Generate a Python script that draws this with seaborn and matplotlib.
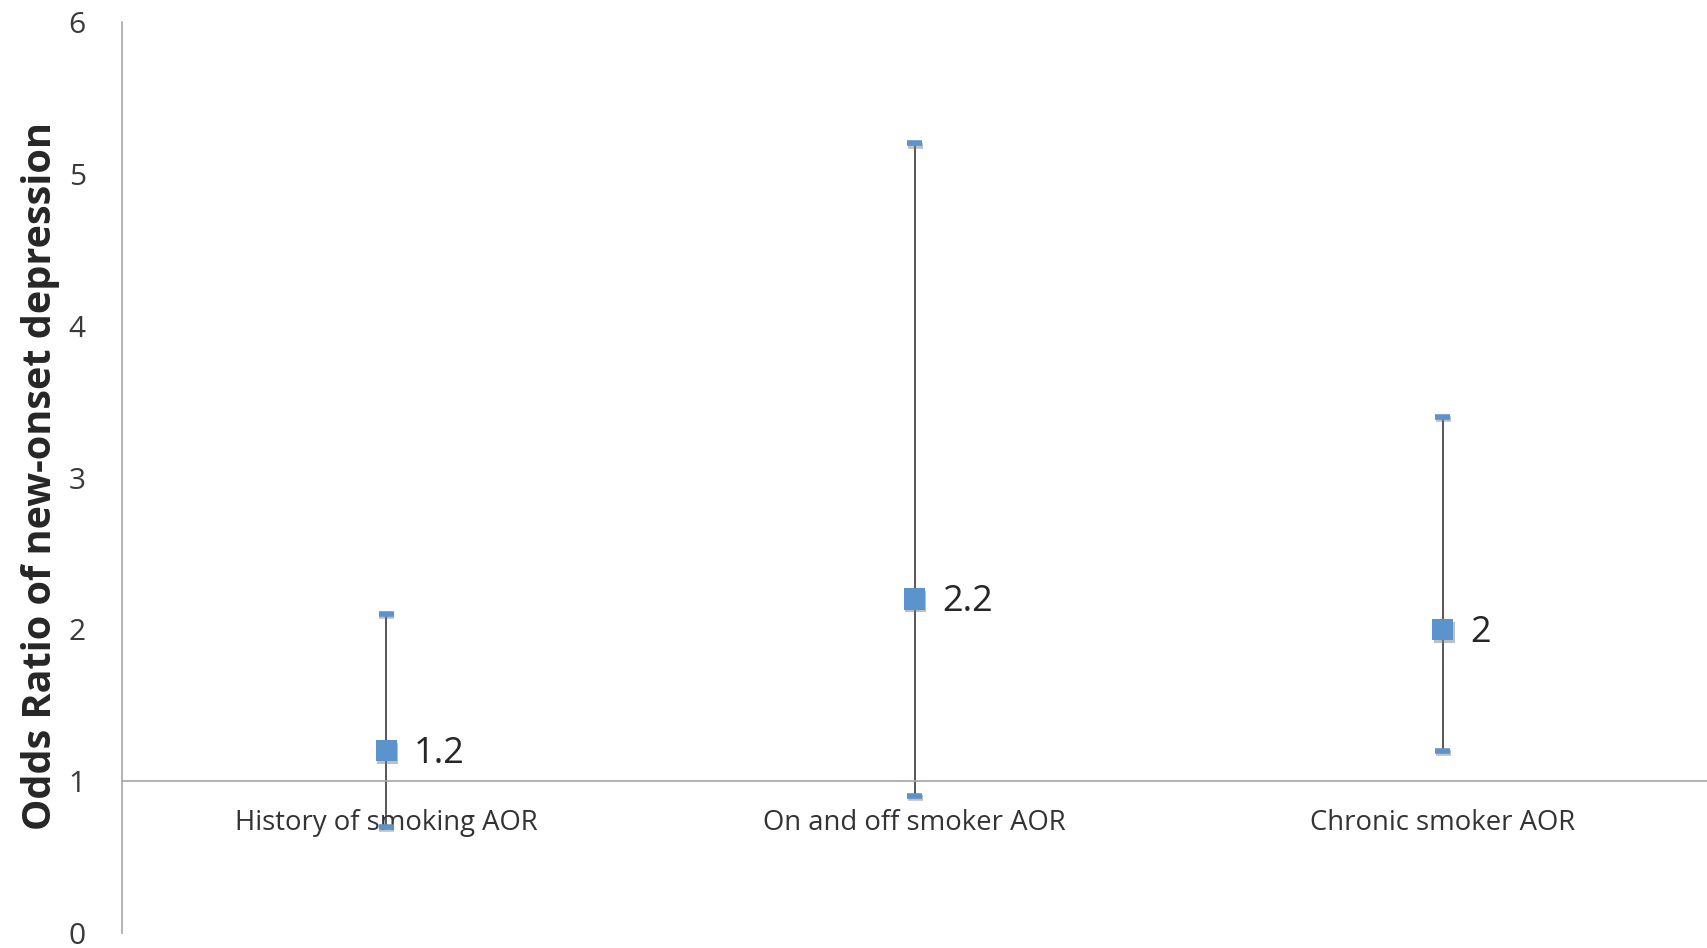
import matplotlib
matplotlib.use("Agg")
import matplotlib.pyplot as plt
import matplotlib.patheffects as pe
import seaborn as sns
import numpy as np
import pandas as pd

categories = ["History of smoking AOR", "On and off smoker AOR", "Chronic smoker AOR"]
aor = [1.2, 2.2, 2.0]
ci_low = [0.7, 0.9, 1.2]
ci_high = [2.1, 5.2, 3.4]
value_labels = ["1.2", "2.2", "2"]
y_ticks = [0, 1, 2, 3, 4, 5, 6]

sns.set_theme(style="white")
plt.rcParams['font.family'] = ['Open Sans', 'DejaVu Sans']

df = pd.DataFrame({"category": categories, "aor": aor, "low": ci_low, "high": ci_high})

fig = plt.figure(figsize=(17.07, 9.48), dpi=100)
ax = fig.add_axes([0.0715, 0.0158, 0.9285, 0.961])

blue = "#5B93CC"
xpos = np.arange(len(categories))
yerr = np.array([df["aor"] - df["low"], df["high"] - df["aor"]])

eb = ax.errorbar(xpos, df["aor"], yerr=yerr, fmt="none", ecolor="#3a3a3a",
                 elinewidth=1.2, capsize=5.4, capthick=4, zorder=2)
for cl in eb[1]:
    cl.set_color(blue)
    cl.set_markeredgecolor(blue)
    cl.set_markerfacecolor(blue)
    cl.set_path_effects([pe.SimpleLineShadow(offset=(0.5, -1.5), shadow_color="gray", alpha=0.5), pe.Normal()])

sns.scatterplot(data=df, x="category", y="aor", marker="s", s=230, color=blue,
                edgecolor="none", ax=ax, zorder=3, legend=False)
for coll in ax.collections:
    coll.set_path_effects([pe.SimplePatchShadow(offset=(1, -2), shadow_rgbFace="gray", alpha=0.5), pe.Normal()])

for x, y, t in zip(xpos, df["aor"], value_labels):
    ax.annotate(t, (x, y), xytext=(20, -2.5), textcoords="offset points",
                ha="left", va="center", fontsize=26, color="#262626")

ax.set_xlim(-0.5, 2.5)
ax.set_ylim(0, 6)
ax.set_yticks(y_ticks)
ax.set_yticklabels([str(v) for v in y_ticks])
ax.set_xticks(xpos)
ax.set_xticklabels(categories)
ax.tick_params(axis="y", length=0, pad=26, labelsize=21.5, labelcolor="#3a3a3a")
ax.tick_params(axis="x", length=0, pad=20, labelsize=19.8, labelcolor="#333333")

ax.spines["top"].set_visible(False)
ax.spines["right"].set_visible(False)
ax.spines["bottom"].set_position(("data", 1))
ax.spines["bottom"].set_color("#A6A6A6")
ax.spines["left"].set_color("#A6A6A6")
ax.spines["bottom"].set_linewidth(1.2)
ax.spines["left"].set_linewidth(1.2)

ax.set_xlabel("")
ax.set_ylabel("Odds Ratio of new-onset depression", fontsize=28.5, fontweight="bold",
              color="#262626")
ax.yaxis.set_label_coords(-0.039, 0.502)

fig.savefig("out.png", dpi=100, facecolor="white")
